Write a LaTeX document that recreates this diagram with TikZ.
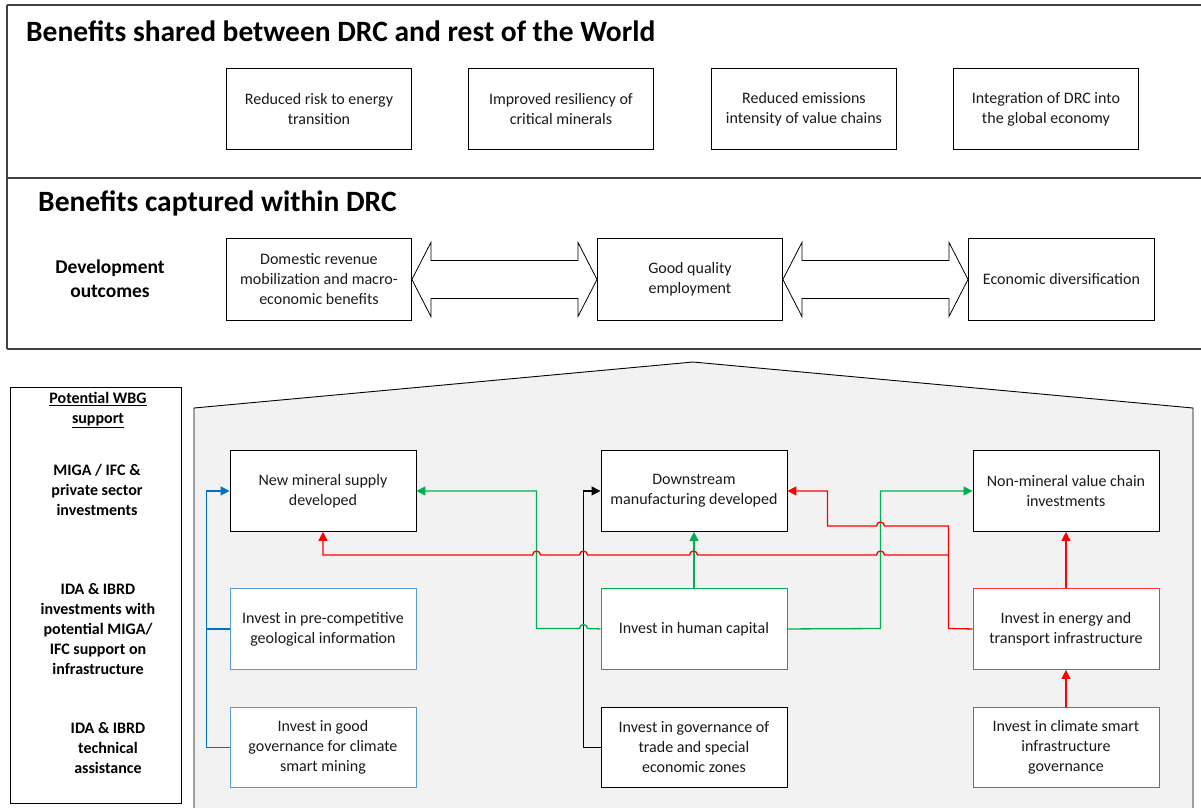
\documentclass[tikz,border=0pt]{standalone}
\usepackage{fontspec}
\setmainfont{Carlito}
\usetikzlibrary{arrows.meta,calc}
\definecolor{bl}{HTML}{0070C0}
\definecolor{bbox}{HTML}{5B9BD5}
\definecolor{gr}{HTML}{00B050}
\definecolor{gbox}{HTML}{00B050}
\definecolor{rd}{HTML}{FF0000}
\definecolor{rbox}{HTML}{FF3333}
\definecolor{hfill}{HTML}{F2F2F2}
\definecolor{frame}{HTML}{404040}
\definecolor{txt}{HTML}{1A1A1A}
\begin{document}
\begin{tikzpicture}[x=1pt,y=-1pt,
  box/.style={draw=black, fill=white, line width=0.9pt, minimum width=186pt, minimum height=81pt,
    align=center, inner sep=0pt, anchor=north west, text=txt,
    font=\fontsize{16}{20}\selectfont},
  bluebox/.style={box, draw=bbox},
  greenbox/.style={box, draw=gbox},
  redbox/.style={box, draw=rbox},
  lab/.style={align=center, font=\bfseries\fontsize{16}{20}\selectfont, text=black},
  title/.style={anchor=base west, font=\bfseries\fontsize{29.5}{34}\selectfont, text=black, inner sep=0pt},
  conn/.style={line width=1.3pt, -{Triangle[length=9pt,width=9pt]}},
  plain/.style={line width=1.3pt},
  dblarrow/.style={draw=black, line width=0.8pt, fill=white, line join=miter}
]
\useasboundingbox (0,0) rectangle (1201,807);
\clip (0,0) rectangle (1201,807);

% big frames
\draw[frame, line width=1.2pt] (7,5) -- (1215,5);
\draw[frame, line width=1.2pt] (7,5) -- (7,349);
\draw[frame, line width=1.2pt] (7,178) -- (1215,178);
\draw[frame, line width=1.8pt] (7,349) -- (1215,349);

\node[title] (t1) at (26,41) {Benefits shared between DRC and rest of the World};
\node[title] (t2) at (38,211) {Benefits captured within DRC};

% top row
\node[box, minimum width=185pt] (a1) at (226,68) {Reduced risk to energy\\transition};
\node[box, minimum width=185pt] (a2) at (468,68) {Improved resiliency of\\critical minerals};
\node[box, minimum width=185pt] (a3) at (711,68) {Reduced emissions\\intensity of value chains};
\node[box, minimum width=185pt] (a4) at (953,68) {Integration of DRC into\\the global economy};

% development outcomes
\node[lab, font=\bfseries\fontsize{19.5}{24}\selectfont] (dev) at (110,279) {Development\\outcomes};
\node[box, minimum width=185pt, minimum height=82pt] (d1) at (226,238) {Domestic revenue\\mobilization and macro-\\economic benefits};
\node[box, minimum width=185pt, minimum height=82pt] (d2) at (597,238) {Good quality\\employment};
\node[box, minimum width=186pt, minimum height=82pt] (d3) at (968,238) {Economic diversification};

\draw[dblarrow] (d1.east) -- ++(19,-37) -- ++(0,18) -- ($(d2.west)+(-19,-19)$) -- ++(0,-18) -- (d2.west)
  -- ++(-19,37) -- ++(0,-18) -- ($(d1.east)+(19,19)$) -- ++(0,18) -- cycle;
\draw[dblarrow] (d2.east) -- ++(19,-37) -- ++(0,18) -- ($(d3.west)+(-19,-19)$) -- ++(0,-18) -- (d3.west)
  -- ++(-19,37) -- ++(0,-18) -- ($(d2.east)+(19,19)$) -- ++(0,18) -- cycle;

% WBG support column
\draw[black, line width=0.9pt] (10,387) rectangle (181,803);
\node[lab] (w0) at (98,410) {\underline{Potential WBG}\\\underline{support}};
\node[lab] (w1) at (97,490) {MIGA / IFC \&\\private sector\\investments};
\node[lab] (w2) at (98,629) {IDA \& IBRD\\investments with\\potential MIGA/\\IFC support on\\infrastructure};
\node[lab] (w3) at (108,748) {IDA \& IBRD\\technical\\assistance};

% house
\filldraw[fill=hfill, draw=black, line width=0.9pt] (194,812) -- (194,408) -- (693,362) -- (1193,408) -- (1193,812);

% rows in house
\node[box] (n1) at (229.5,450) {New mineral supply\\developed};
\node[box] (n2) at (600.5,450) {Downstream\\manufacturing developed};
\node[box] (n3) at (972.5,450) {Non-mineral value chain\\investments};
\node[bluebox] (m1) at (229.5,588) {Invest in pre-competitive\\geological information};
\node[greenbox] (m2) at (600.5,588) {Invest in human capital};
\node[redbox] (m3) at (972.5,588) {Invest in energy and\\transport infrastructure};
\node[bluebox, minimum height=80pt] (g1) at (229.5,707) {Invest in good\\governance for climate\\smart mining};
\node[box, minimum height=80pt] (g2) at (600.5,707) {Invest in governance of\\trade and special\\economic zones};
\node[redbox, minimum height=80pt] (g3) at (972.5,707) {Invest in climate smart\\infrastructure\\governance};

% blue connectors
\draw[plain, bl] (g1.west) -- ++(-23,0) |- (m1.west);
\draw[conn, bl] (m1.west) -- ++(-23,0) |- (n1.west);

% black connector
\draw[conn, black] (g2.west) -- ++(-17,0) |- (n2.west);

% green connectors
\draw[conn, gr] (m2.west) -- (587.5,628.5) arc[start angle=0, end angle=180, radius=4pt] -- (536.5,628.5) |- (n1.east);
\draw[conn, gr] (m2.north) -- (n2.south);
\draw[conn, gr] (m2.east) -- (880.5,628.5) |- (n3.west);

% red connectors
\draw[conn, rd] (m3.west) -- (948.5,628.5) -- (948.5,526) -- (884.5,526) arc[start angle=0, end angle=180, radius=4pt]
  -- (827.5,526) |- (n2.east);
\draw[conn, rd] (948.5,555) -- (884.5,555) arc[start angle=0, end angle=180, radius=4pt]
  -- (697.5,555) arc[start angle=0, end angle=180, radius=4pt]
  -- (587.5,555) arc[start angle=0, end angle=180, radius=4pt]
  -- (540.5,555) arc[start angle=0, end angle=180, radius=4pt]
  -- (n1.south |- 0,555) -- (n1.south);
\draw[conn, rd] (m3.north) -- (n3.south);
\draw[conn, rd] (g3.north) -- (m3.south);
\end{tikzpicture}
\end{document}
